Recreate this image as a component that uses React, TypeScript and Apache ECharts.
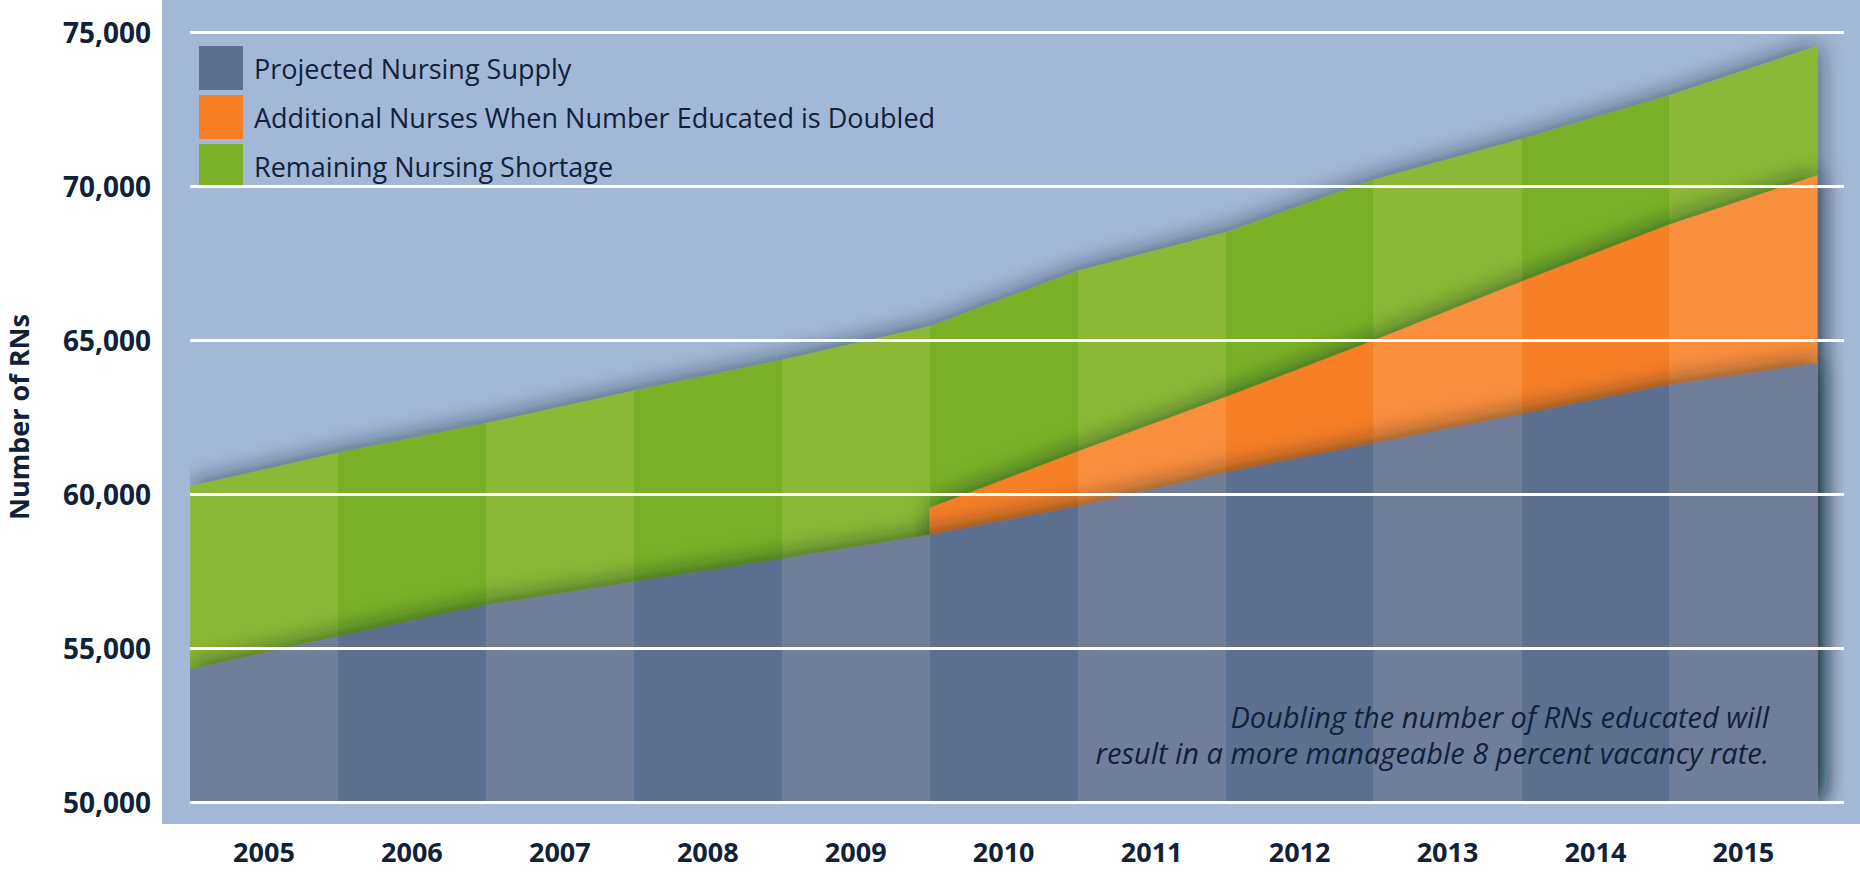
import React, { useEffect, useRef } from "react";
import * as echarts from "echarts";

// Years (one band each) and band boundaries (start of each year band .. end of 2015)
const years = ["2005", "2006", "2007", "2008", "2009", "2010", "2011", "2012", "2013", "2014", "2015"];
const boundaries = [0, 1, 2, 3, 4, 5, 6, 7, 8, 9, 10, 11];

// Values at band boundaries (number of RNs)
const supply = [54300, 55380, 56400, 57150, 57900, 58680, 59600, 60700, 61650, 62600, 63550, 64250];
const additional = [null, null, null, null, null, 870, 1780, 2450, 3330, 4300, 5200, 6100];
const shortage = [5950, 5960, 5900, 6200, 6450, 5900, 5870, 5350, 5220, 4630, 4200, 4200];

const yTicks = { min: 50000, max: 75000, interval: 5000 };

const names = {
  supply: "Projected Nursing Supply",
  additional: "Additional Nurses When Number Educated is Doubled",
  shortage: "Remaining Nursing Shortage",
};

const noteLines = [
  "Doubling the number of RNs educated will",
  "result in a more manageable 8 percent vacancy rate.",
];

const TEXT = "#10213a";

function bandPieces(light: string, dark: string) {
  return years.map((_, k) => {
    const p: any = { gte: k, color: k % 2 === 0 ? light : dark };
    if (k === years.length - 1) p.lte = k + 1.5;
    else p.lt = k + 1;
    return p;
  });
}

export default function App() {
  const ref = useRef<HTMLDivElement>(null);

  useEffect(() => {
    if (!ref.current) return;
    const chart = echarts.init(ref.current, undefined, { renderer: "svg" });

    const totalData = boundaries.map((b, i) => [b, supply[i] + (additional[i] ?? 0) + shortage[i]]);
    const addData = boundaries
      .map((b, i) => (additional[i] == null ? null : [b, supply[i] + (additional[i] as number)]))
      .filter((d) => d !== null);
    const supplyData = boundaries.map((b, i) => [b, supply[i]]);

    const shadow = {
      opacity: 1,
      shadowColor: "rgba(20,30,40,0.6)",
      shadowBlur: 24,
      shadowOffsetX: 2,
      shadowOffsetY: -2,
    };

    const baseSeries = (name: string, data: any[], z: number) => ({
      type: "line",
      name,
      data,
      xAxisIndex: 0,
      yAxisIndex: 0,
      showSymbol: false,
      symbol: "none",
      lineStyle: { width: 0 },
      areaStyle: { ...shadow, origin: "start" },
      z,
      silent: true,
    });

    const option: any = {
      animation: false,
      backgroundColor: "#ffffff",
      graphic: {
        elements: [
          {
            type: "rect",
            z: 0,
            silent: true,
            shape: { x: 162, y: 0, width: 1698, height: 824 },
            style: { fill: "#a3b8d7" },
          },
          ...noteLines.map((line, i) => ({
            type: "text",
            z: 100,
            x: 1769,
            y: 716 + i * 36,
            style: {
              text: line,
              align: "right",
              verticalAlign: "middle",
              fill: TEXT,
              font: "italic 29px 'Open Sans'",
            },
          })),
        ],
      },
      grid: {
        left: 190,
        top: 32,
        width: 1654,
        height: 770,
        containLabel: false,
        outerBoundsMode: "none",
      },
      legend: {
        orient: "vertical",
        left: 194,
        top: 41,
        itemWidth: 44,
        itemHeight: 44,
        itemGap: 5,
        icon: "rect",
        selectedMode: false,
        textStyle: {
          fontFamily: "Open Sans",
          fontSize: 27,
          color: TEXT,
          padding: [0, 0, 0, 6],
        },
        data: [
          { name: names.supply, itemStyle: { color: "#5d6f8e", shadowBlur: 0 } },
          { name: names.additional, itemStyle: { color: "#f77f24", shadowBlur: 0 } },
          { name: names.shortage, itemStyle: { color: "#7aaf28", shadowBlur: 0 } },
        ],
      },
      visualMap: [
        { type: "piecewise", show: false, seriesIndex: 0, dimension: 0, pieces: bandPieces("#8bb836", "#78b025") },
        { type: "piecewise", show: false, seriesIndex: 1, dimension: 0, pieces: bandPieces("#f98e3c", "#f77f25") },
        { type: "piecewise", show: false, seriesIndex: 2, dimension: 0, pieces: bandPieces("#6f7e99", "#5d7090") },
      ],
      xAxis: [
        {
          type: "value",
          min: 0,
          max: 11.18,
          splitLine: { show: false },
          axisLine: { show: false },
          axisTick: { show: false },
          axisLabel: {
            customValues: years.map((_, k) => k + 0.5),
            formatter: (v: number) => years[Math.round(v - 0.5)] ?? "",
            fontFamily: "Open Sans",
            fontWeight: "bold",
            fontSize: 27,
            color: TEXT,
            margin: 36,
          },
        },
      ],
      yAxis: [
        {
          type: "value",
          min: yTicks.min,
          max: yTicks.max,
          interval: yTicks.interval,
          z: 5,
          name: "Number of RNs",
          nameLocation: "middle",
          nameRotate: 90,
          nameGap: 158,
          nameTextStyle: {
            fontFamily: "Open Sans",
            fontWeight: "bold",
            fontSize: 27,
            color: TEXT,
          },
          axisLine: { show: false },
          axisTick: { show: false },
          splitLine: { show: true, lineStyle: { color: "#ffffff", width: 3 } },
          axisLabel: {
            formatter: (v: number) => v.toLocaleString("en-US"),
            fontFamily: "Open Sans",
            fontWeight: "bold",
            fontSize: 28,
            color: TEXT,
            margin: 39,
            padding: [0, 0, 16, 0],
          },
        },
      ],
      series: [
        baseSeries(names.shortage, totalData, 2),
        baseSeries(names.additional, addData, 3),
        baseSeries(names.supply, supplyData, 4),
      ],
    };

    chart.setOption(option);
    return () => chart.dispose();
  }, []);

  return (
    <div
      ref={ref}
      style={{ position: "fixed", left: 0, top: 0, width: 1860, height: 873, background: "#fff" }}
    />
  );
}
